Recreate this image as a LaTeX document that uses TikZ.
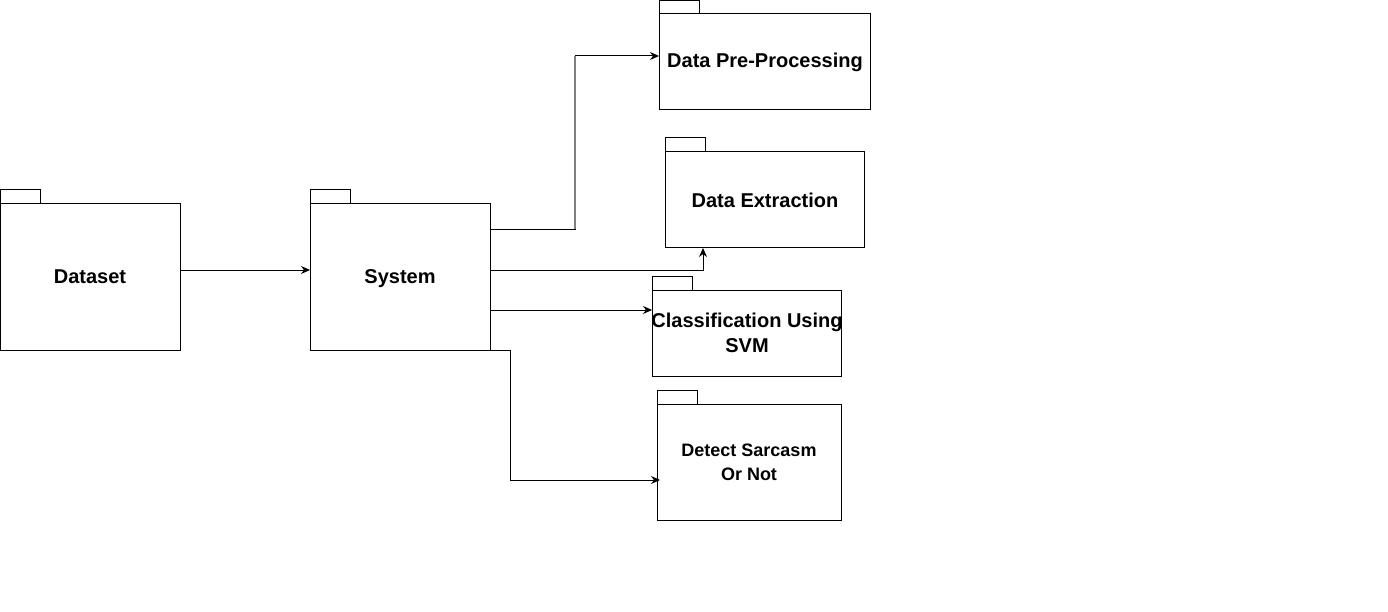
\documentclass[tikz,border=0pt]{standalone}
\usepackage{fontspec}
\setmainfont{Liberation Sans}
\usetikzlibrary{arrows.meta}
\begin{document}
\begin{tikzpicture}[x=1pt,y=-1pt,
  line width=1pt,
  box/.style={draw=black,line width=1pt},
  lbl/.style={font=\bfseries\fontsize{20}{25}\selectfont,align=center,inner sep=0pt},
  slbl/.style={font=\bfseries\fontsize{18}{24}\selectfont,align=center,inner sep=0pt},
  conn/.style={draw=black,line width=1pt,-{Stealth[length=9pt,width=8pt]}}]
\useasboundingbox (0,0) rectangle (1388,612);
\fill[white] (0,0) rectangle (1388,612);
% packages: tab + body
\draw[box] (0.5,190) rectangle (40,204);
\draw[box] (0.5,204) rectangle (180,350);
\node[lbl,anchor=base] (dataset) at (90,283) {Dataset};
\coordinate (datasetR) at (180,270);

\draw[box] (310,190) rectangle (350,204);
\draw[box] (310,204) rectangle (490,350);
\node[lbl,anchor=base] (system) at (400,283) {System};
\coordinate (sysL) at (310,270);
\coordinate (sysA) at (490,230);
\coordinate (sysB) at (490,270);
\coordinate (sysC) at (490,310);
\coordinate (sysD) at (490,350);

\draw[box] (659,0.5) rectangle (699,14);
\draw[box] (659,14) rectangle (870,110);
\node[lbl] (pre) at (765,62) {Data Pre-Processing};
\coordinate (preL) at (659,56);

\draw[box] (665,138) rectangle (705,152);
\draw[box] (665,152) rectangle (864,248);
\node[lbl] (ext) at (765,200) {Data Extraction};
\coordinate (extB) at (703,248);

\draw[box] (652,276) rectangle (692,290);
\draw[box] (652,290) rectangle (841,376);
\node[lbl] (cls) at (747,333) {Classification Using\\SVM};
\coordinate (clsL) at (652,310);

\draw[box] (657,390) rectangle (697,404);
\draw[box] (657,404) rectangle (841,520);
\node[slbl] (det) at (749,462) {Detect Sarcasm\\Or Not};
\coordinate (detL) at (660,480);

% connectors
\draw[conn] (datasetR) -- (sysL);
\draw[conn] (sysA) -- (575,230) -- (575,56) -- (preL);
\draw[draw=gray,line width=1.2pt] (575,229.5) -- (575,56.5);
\draw[conn] (sysB) -- (703,270) -- (extB);
\draw[conn] (sysC) -- (clsL);
\draw[conn] (sysD) -- (510,350) -- (510,480) -- (detL);
\end{tikzpicture}
\end{document}
